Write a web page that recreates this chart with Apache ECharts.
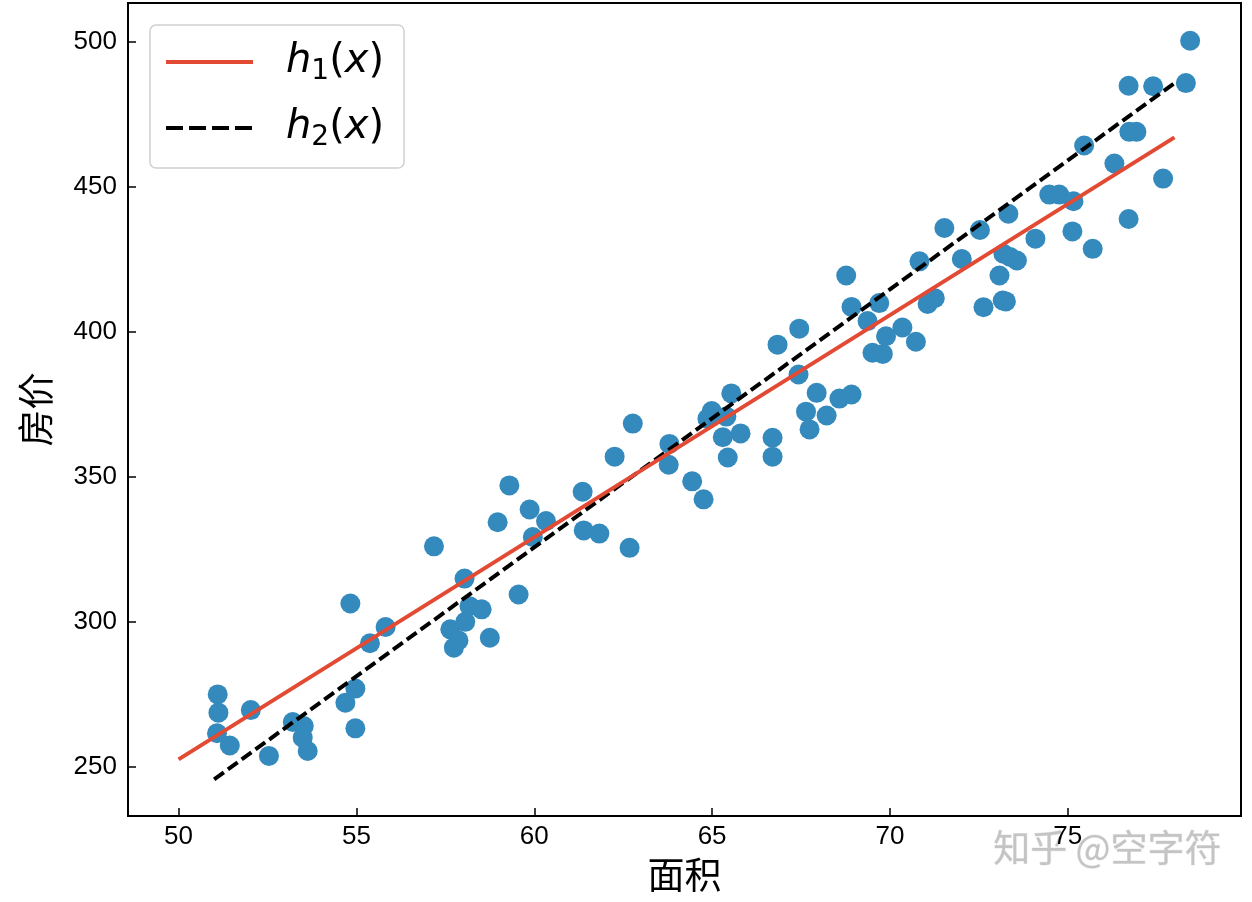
<!DOCTYPE html>
<html>
<head>
<meta charset="utf-8">
<script src="https://cdn.jsdelivr.net/npm/echarts@6/dist/echarts.min.js"></script>
<style>
html,body{margin:0;padding:0;background:#fff;}
#chart{width:1252px;height:902px;}
</style>
</head>
<body>
<div id="chart"></div>
<script>
// 面积 (area) of each sample
const areaX = [
  51.10, 51.12, 51.08, 51.44, 52.03, 52.54, 53.21, 53.52, 53.49, 53.63,
  54.69, 54.97, 54.83, 54.97, 55.38, 55.82, 57.18, 57.64, 57.74, 57.87,
  58.04, 58.18, 58.06, 58.52, 58.75, 58.97, 59.30, 59.56, 59.87, 59.96,
  60.33, 61.36, 61.39, 61.83, 62.26, 62.68, 62.77, 63.80, 63.78, 64.44,
  64.76, 64.99, 64.87, 65.30, 65.40, 65.44, 65.54, 65.80, 66.70, 66.70,
  66.84, 67.45, 67.43, 67.64, 67.74, 67.94, 68.22, 68.58, 68.92, 68.77,
  68.92, 69.37, 69.51, 69.80, 69.70, 69.89, 70.35, 70.73, 70.83, 71.06,
  71.26, 71.53, 72.02, 72.53, 72.63, 73.08, 73.19, 73.17, 73.26, 73.33,
  73.38, 73.57, 74.09, 74.48, 74.76, 75.16, 75.13, 75.46, 75.70, 76.31,
  76.71, 76.71, 76.73, 76.93, 77.40, 77.68, 78.32, 78.44
];
// 房价 (price) of each sample
const priceY = [
  275.1, 268.8, 261.7, 257.5, 269.7, 253.9, 265.6, 264.2, 260.2, 255.6,
  272.2, 277.1, 306.4, 263.4, 292.7, 298.3, 326.1, 297.5, 291.2, 293.7,
  315.0, 305.5, 300.1, 304.4, 294.6, 334.4, 347.1, 309.5, 338.8, 329.3,
  334.8, 344.9, 331.6, 330.5, 357.0, 325.6, 368.4, 361.4, 354.2, 348.5,
  342.3, 372.7, 370.1, 363.7, 370.8, 356.7, 378.8, 365.0, 363.5, 357.0,
  395.6, 401.1, 385.3, 372.5, 366.4, 379.0, 371.2, 377.0, 378.4, 419.4,
  408.6, 403.7, 392.8, 392.4, 409.9, 398.5, 401.5, 396.6, 424.3, 409.6,
  411.6, 435.8, 425.1, 435.1, 408.5, 419.4, 426.9, 410.8, 410.5, 440.7,
  425.8, 424.6, 432.1, 447.3, 447.3, 445.0, 434.6, 464.2, 428.6, 458.0,
  484.8, 438.9, 468.9, 468.9, 484.6, 452.8, 485.7, 500.3
];
// fitted lines (endpoints)
const h1X = [50, 78];
const h1Y = [252.7, 467.0];
const h2X = [51, 78];
const h2Y = [245.8, 485.7];
// tick labels
const xTicks = [50, 55, 60, 65, 70, 75];
const yTicks = [250, 300, 350, 400, 450, 500];
const xName = '面积';
const yName = '房价';
const watermark = '知乎 @空字符';

const pts = areaX.map((x, i) => [x, priceY[i]]);
const h1 = h1X.map((x, i) => [x, h1Y[i]]);
const h2 = h2X.map((x, i) => [x, h2Y[i]]);

const chart = echarts.init(document.getElementById('chart'), null, {renderer: 'canvas'});
const tickFont = {fontFamily: 'Liberation Sans', fontSize: 26, color: '#000'};
const mathRich = {
  sp: {width: 28},
  i: {fontFamily: 'DejaVu Sans', fontStyle: 'italic', fontSize: 40, lineHeight: 48, color: '#000', verticalAlign: 'middle'},
  n: {fontFamily: 'DejaVu Sans', fontSize: 40, lineHeight: 48, color: '#000', verticalAlign: 'middle'},
  s: {fontFamily: 'DejaVu Sans', fontSize: 28, lineHeight: 28, color: '#000', verticalAlign: 'bottom'}
};
chart.setOption({
  animation: false,
  backgroundColor: '#fff',
  grid: {left: 128, top: 3, right: 11, bottom: 86, show: true, borderColor: '#000', borderWidth: 2, backgroundColor: 'transparent'},
  xAxis: {
    type: 'value', min: 48.578, max: 79.87,
    name: xName, nameLocation: 'middle', nameGap: 40,
    nameTextStyle: {fontFamily: 'Noto Sans CJK SC', fontSize: 37, color: '#000'},
    axisLine: {show: true, onZero: false, lineStyle: {color: '#000', width: 2}},
    axisTick: {show: true, inside: true, length: 8, lineStyle: {color: '#000', width: 1.5}, customValues: xTicks},
    axisLabel: Object.assign({margin: 8, customValues: xTicks}, tickFont),
    splitLine: {show: false}
  },
  yAxis: {
    type: 'value', min: 233.2, max: 513.3,
    name: yName, nameLocation: 'middle', nameGap: 74,
    nameTextStyle: {fontFamily: 'Noto Sans CJK SC', fontSize: 37, color: '#000'},
    axisLine: {show: true, onZero: false, lineStyle: {color: '#000', width: 2}},
    axisTick: {show: true, inside: true, length: 8, lineStyle: {color: '#000', width: 1.5}, customValues: yTicks},
    axisLabel: Object.assign({margin: 11, customValues: yTicks}, tickFont),
    splitLine: {show: false}
  },
  legend: {
    data: [
      {name: 'h1'},
      {name: 'h2', lineStyle: {type: [17, 6]}}
    ],
    orient: 'vertical',
    left: 150, top: 25,
    padding: [17, 20, 16, 14],
    itemGap: 22,
    itemWidth: 87, itemHeight: 14,
    backgroundColor: 'rgba(255,255,255,0.8)',
    borderColor: '#d0d0d0', borderWidth: 1.5, borderRadius: 6,
    itemStyle: {opacity: 0, borderWidth: 0},
    lineStyle: {width: 4},
    formatter: function (name) {
      return name === 'h1' ? '{sp|}{i|h}{s|1}{n|(}{i|x}{n|)}' : '{sp|}{i|h}{s|2}{n|(}{i|x}{n|)}';
    },
    textStyle: {rich: mathRich}
  },
  graphic: [{
    type: 'text', right: 30, top: 829, silent: true,
    style: {text: watermark, fontFamily: 'Noto Sans CJK SC', fontSize: 37, fill: '#c4c4c4', stroke: '#ececec', lineWidth: 1}
  }],
  series: [
    {
      name: 'data', type: 'scatter', data: pts, symbol: 'circle', symbolSize: 20,
      itemStyle: {color: '#348ABD', opacity: 1}, z: 2
    },
    {
      name: 'h2', type: 'line', data: h2, symbol: 'none', showSymbol: false,
      lineStyle: {color: '#000', width: 4, type: [12, 5]}, itemStyle: {color: '#000'}, z: 3
    },
    {
      name: 'h1', type: 'line', data: h1, symbol: 'none', showSymbol: false,
      lineStyle: {color: '#E24A33', width: 4}, itemStyle: {color: '#E24A33'}, z: 4
    }
  ]
});
</script>
</body>
</html>
